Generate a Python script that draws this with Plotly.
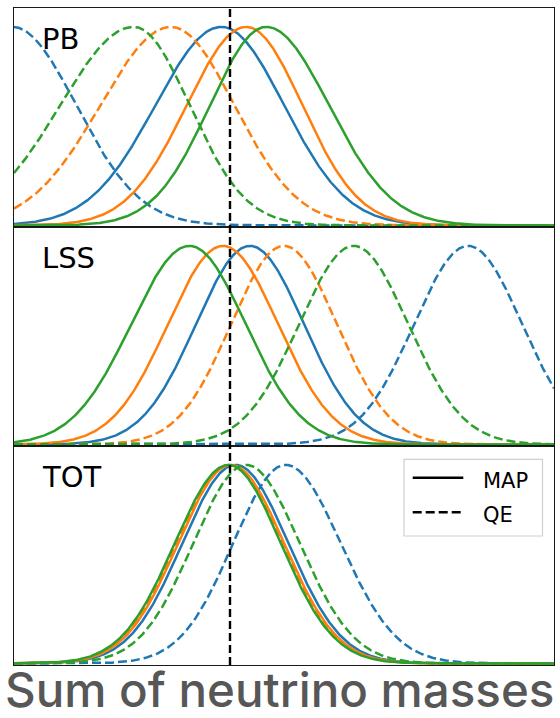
import numpy as np
import plotly.graph_objects as go
from plotly.subplots import make_subplots

# ---------------- data ----------------
panels = ["PB", "LSS", "TOT"]
methods = ["MAP", "QE"]
series_colors = ["#1f77b4", "#ff7f0e", "#2ca02c"]   # blue, orange, green
truth_value = 0.4

# PB panel: peak position and left/right widths (blue, orange, green)
pb_map_mean = [0.384, 0.430, 0.467]
pb_map_sig_left = [0.122, 0.110, 0.104]
pb_map_sig_right = [0.116, 0.104, 0.116]
pb_qe_mean = [-0.003, 0.291, 0.222]
pb_qe_sig_left = [0.118, 0.131, 0.136]
pb_qe_sig_right = [0.118, 0.117, 0.103]

# LSS panel
lss_map_mean = [0.437, 0.387, 0.325]
lss_map_sig_left = [0.100, 0.102, 0.108]
lss_map_sig_right = [0.100, 0.102, 0.104]
lss_qe_mean = [0.841, 0.500, 0.629]
lss_qe_sig_left = [0.100, 0.098, 0.101]
lss_qe_sig_right = [0.100, 0.098, 0.101]

# TOT panel
tot_map_mean = [0.410, 0.402, 0.397]
tot_map_sig_left = [0.098, 0.098, 0.099]
tot_map_sig_right = [0.098, 0.098, 0.097]
tot_qe_mean = [0.503, 0.400, 0.430]
tot_qe_sig_left = [0.097, 0.099, 0.098]
tot_qe_sig_right = [0.102, 0.098, 0.099]

x_range = [0.0, 1.0]
y_range = [-0.008, 1.095]

panel_params = {
    "PB": {"MAP": (pb_map_mean, pb_map_sig_left, pb_map_sig_right),
           "QE": (pb_qe_mean, pb_qe_sig_left, pb_qe_sig_right)},
    "LSS": {"MAP": (lss_map_mean, lss_map_sig_left, lss_map_sig_right),
            "QE": (lss_qe_mean, lss_qe_sig_left, lss_qe_sig_right)},
    "TOT": {"MAP": (tot_map_mean, tot_map_sig_left, tot_map_sig_right),
            "QE": (tot_qe_mean, tot_qe_sig_left, tot_qe_sig_right)},
}

# ---------------- figure ----------------
W, H = 560, 718
ML, MR, MT, MB = 14, 6, 8, 53
plot_w = W - ML - MR
plot_h = H - MT - MB


def px_x(px):
    return (px - ML) / plot_w


def px_y(py):
    return (H - MB - py) / plot_h


grid = np.linspace(x_range[0], x_range[1], 801)


def split_normal(mu, sl, sr):
    s = np.where(grid < mu, sl, sr)
    return np.exp(-0.5 * ((grid - mu) / s) ** 2)


fig = make_subplots(rows=3, cols=1, shared_xaxes=True, vertical_spacing=0)

LW = 2.5
dash_style = "9px,4px"
for r, panel in enumerate(panels, start=1):
    for ci, col in enumerate(series_colors):
        for method in methods:
            mu, sl, sr = panel_params[panel][method]
            fig.add_trace(go.Scatter(
                x=grid, y=split_normal(mu[ci], sl[ci], sr[ci]),
                mode="lines",
                line=dict(color=col, width=LW,
                          dash="solid" if method == "MAP" else dash_style),
                showlegend=False, hoverinfo="skip",
            ), row=r, col=1)

for r in range(1, 4):
    fig.update_xaxes(range=x_range, showticklabels=False, ticks="",
                     showgrid=False, zeroline=False, showline=True,
                     mirror=True, linecolor="#1a1a1a", linewidth=1.4,
                     row=r, col=1)
    fig.update_yaxes(range=y_range, showticklabels=False, ticks="",
                     showgrid=False, zeroline=False, showline=True,
                     mirror=True, linecolor="#1a1a1a", linewidth=1.4,
                     row=r, col=1)

# vertical dashed truth line across all panels
fig.add_shape(type="line", xref="x", yref="paper",
              x0=truth_value, x1=truth_value, y0=0, y1=1,
              line=dict(color="black", width=2.4, dash="8px,4px"),
              layer="above")

annotations = []
# panel labels
for r, panel in enumerate(panels, start=1):
    yref = "y domain" if r == 1 else f"y{r} domain"
    annotations.append(dict(
        text=panel, xref="paper", yref=yref, x=px_x(41), y=0.86,
        xanchor="left", yanchor="middle", showarrow=False, borderpad=0,
        font=dict(family="DejaVu Sans", size=29, color="black")))

# legend (drawn manually to match matplotlib style)
shapes = []
lx0, lx1, ly0, ly1 = px_x(404), px_x(542.5), px_y(459.3), px_y(536)
shapes.append(dict(type="rect", xref="paper", yref="paper",
                   x0=lx0, x1=lx1, y0=ly1, y1=ly0,
                   line=dict(color="#d0d0d0", width=1.2),
                   fillcolor="rgba(255,255,255,0.85)", layer="above"))
shapes.append(dict(type="line", xref="paper", yref="paper",
                   x0=px_x(412.7), x1=px_x(463.3), y0=px_y(477.7), y1=px_y(477.7),
                   line=dict(color="black", width=LW), layer="above"))
shapes.append(dict(type="line", xref="paper", yref="paper",
                   x0=px_x(412.7), x1=px_x(462), y0=px_y(512.3), y1=px_y(512.3),
                   line=dict(color="black", width=LW, dash=dash_style), layer="above"))
for s in shapes:
    fig.add_shape(**s)

for label, cy in zip(methods, [480.5, 515.3]):
    annotations.append(dict(
        text=label, xref="paper", yref="paper", x=px_x(482), y=px_y(cy),
        xanchor="left", yanchor="middle", showarrow=False, borderpad=0,
        font=dict(family="DejaVu Sans", size=21, color="black")))

# x label
annotations.append(dict(
    text="Sum of neutrino masses", xref="paper", yref="paper",
    x=px_x(279), y=px_y(689), xanchor="center", yanchor="middle",
    showarrow=False, borderpad=0,
    font=dict(family="Inter", size=47.5, color="#575757", weight=500)))

fig.update_layout(
    width=W, height=H,
    margin=dict(l=ML, r=MR, t=MT, b=MB),
    paper_bgcolor="white", plot_bgcolor="white",
    showlegend=False,
    annotations=annotations,
)

fig.write_html("out.html")
